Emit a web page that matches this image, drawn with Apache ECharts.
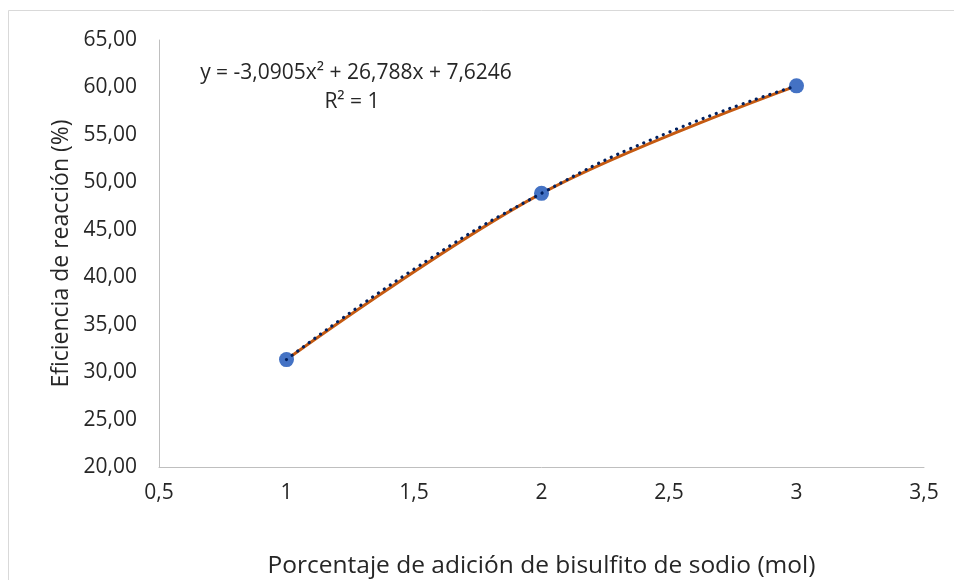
<!DOCTYPE html>
<html>
<head>
<meta charset="utf-8">
<script src="https://cdn.jsdelivr.net/npm/echarts@6/dist/echarts.min.js"></script>
<style>html,body{margin:0;padding:0;background:#fff}#c{width:954px;height:580px}</style>
</head>
<body>
<div id="c"></div>
<script>
// Data
const xValues = [1, 2, 3];
const yValues = [31.32, 48.84, 60.17];
// Polynomial trendline
const trendX = [1, 1.5, 2, 2.5, 3];
const trendY = [31.32, 40.85, 48.84, 55.28, 60.17];
const equationText = 'y = -3,0905x² + 26,788x + 7,6246';
const r2Text = 'R² = 1';
const xTitle = 'Porcentaje de adición de bisulfito de sodio (mol)';
const yTitle = 'Eficiencia de reacción (%)';

const FONT = '"Open Sans", Lato, sans-serif';
const chart = echarts.init(document.getElementById('c'));
const fmt = (v, d) => v.toFixed(d).replace('.', ',');

chart.setOption({
  animation: false,
  backgroundColor: '#fff',
  grid: { left: 159, right: 30, top: 40, bottom: 113, outerBoundsMode: 'none', containLabel: false },
  xAxis: {
    type: 'value', min: 0.5, max: 3.5, interval: 0.5,
    name: xTitle, nameLocation: 'middle', nameGap: 99,
    nameTextStyle: { fontFamily: FONT, fontSize: 24.5, color: '#262626', verticalAlign: 'middle' },
    axisLine: { show: true, lineStyle: { color: '#bfbfbf', width: 1 } },
    axisTick: { show: false },
    splitLine: { show: false },
    axisLabel: { fontFamily: FONT, fontSize: 21, color: '#262626', margin: 16,
      formatter: v => (Math.round(v*10)%10===0 ? String(Math.round(v)) : fmt(v,1)) }
  },
  yAxis: {
    type: 'value', min: 20, max: 65, interval: 5,
    name: yTitle, nameLocation: 'middle', nameGap: 83, nameRotate: 90,
    nameTextStyle: { fontFamily: FONT, fontSize: 23, color: '#262626' },
    axisLine: { show: true, lineStyle: { color: '#bfbfbf', width: 1 } },
    axisTick: { show: false },
    splitLine: { show: false },
    axisLabel: { fontFamily: FONT, fontSize: 21, color: '#262626', margin: 22,
      formatter: v => fmt(v, 2) }
  },
  series: [
    {
      type: 'line', data: xValues.map((x, i) => [x, yValues[i]]),
      smooth: 0.35, symbol: 'circle', symbolSize: 15,
      lineStyle: { color: '#c55a11', width: 3 },
      itemStyle: { color: '#4472c4' }, z: 2
    },
    {
      type: 'line', data: trendX.map((x, i) => [x, trendY[i]]),
      smooth: 0.5, symbol: 'none',
      lineStyle: { color: '#002060', width: 3.2, type: [0.1, 7], cap: 'round' }, z: 3
    }
  ],
  graphic: [
    { type: 'rect', shape: { x: 8.5, y: 10.5, width: 1000, height: 700 },
      style: { fill: 'none', stroke: '#d9d9d9', lineWidth: 1 }, silent: true },
    { type: 'text', x: 356, y: 73,
      style: { text: equationText, fontFamily: FONT, fontSize: 21, fill: '#262626', align: 'center', verticalAlign: 'middle' } },
    { type: 'text', x: 352, y: 102,
      style: { text: r2Text, fontFamily: FONT, fontSize: 21, fill: '#262626', align: 'center', verticalAlign: 'middle' } }
  ]
});
</script>
</body>
</html>
